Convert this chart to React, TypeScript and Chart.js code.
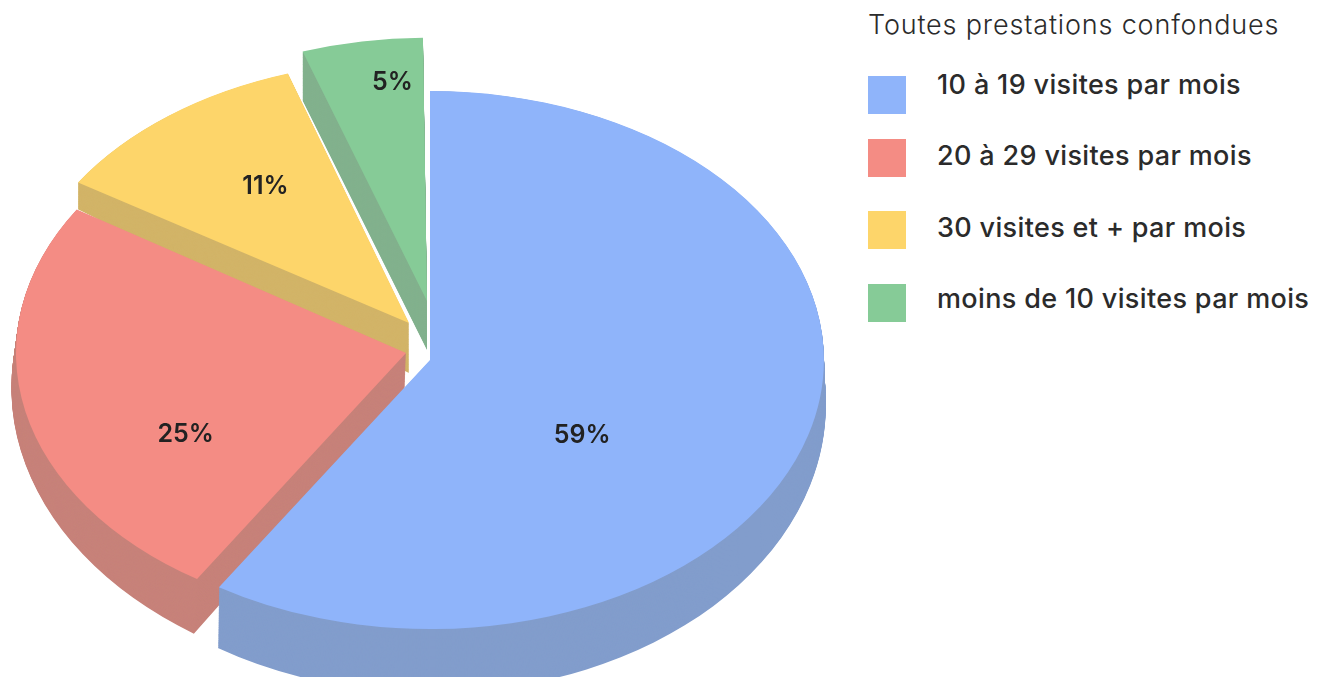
import React, { useEffect, useRef } from "react";
import { Chart, registerables } from "chart.js";

Chart.register(...registerables);

const legendTitle = "Toutes prestations confondues";
const categories = ["10 à 19 visites par mois", "20 à 29 visites par mois", "30 visites et + par mois", "moins de 10 visites par mois"];
const shares = [59, 25, 11, 5];
const topColors = ["#8FB4FA", "#F48C84", "#FDD56A", "#86CB97"];
const wallColors = ["#829DCC", "#C7827A", "#D2B468", "#82B18D"];

// presentation of the exploded 3D pie
const explodeX = [0, -24, -21, -3];
const explodeY = [15, 8, -22, -44];
const sliceScale = [1.01, 1, 1.005, 1];
const sliceTilt = [1, 1.005, 0.98, 0.988];
const sliceTurnDeg = [0, 0, 0, -0.6];
const wallDepth = [45, 43, 50, 49];
const wallSlopeY = [0.07, 0.07, 0.07, 0];
const wallSlopeX = [0, 0.02, 0.04, 0];
const wallWiden = [0.005, 0.008, 0, 0];
const wallShift = [0, -1.5, 0, 0];
const haloWidth = [0, 0, 2, 0];
const labelNudgeX = [-35, -30, -24, -4];
const labelNudgeY = [38, 52, -31, -87];
const paintOrder = [3, 2, 1, 0];
const legendBoxTops = [76, 139, 211, 284];
const legendTextMiddles = [84, 155, 227, 298];

const PIE_X = 430;
const PIE_Y = 345;
const TILT = 0.683;
const WALL_STEPS = 70;

const pie3d = {
  id: "pie3d",
  beforeDatasetDraw(chart: any, args: any) {
    const ctx = chart.ctx;
    const arcs = args.meta.data;
    const place = (i: number, t: number) => {
      const arc = arcs[i];
      const ax = PIE_X + explodeX[i];
      const ay = PIE_Y + explodeY[i];
      const s = sliceScale[i];
      ctx.translate(ax + t * wallShift[i], ay + t * wallDepth[i]);
      ctx.transform(1, t * wallSlopeX[i], 0, 1, 0, 0);
      ctx.scale(s * (1 + wallWiden[i] * t), s * TILT * sliceTilt[i] * (1 + wallSlopeY[i] * t));
      ctx.rotate((sliceTurnDeg[i] * Math.PI) / 180);
      ctx.translate(-arc.x, -arc.y);
    };
    paintOrder.forEach((i) => {
      const arc = arcs[i];
      const base = arc.options;
      if (haloWidth[i] > 0) {
        ctx.save();
        place(i, 0);
        arc.options = { ...base, backgroundColor: "#fff", borderColor: "rgba(255,255,255,0.9)", borderWidth: haloWidth[i], borderAlign: "center", borderJoinStyle: "miter" };
        arc.draw(ctx);
        ctx.restore();
      }
      arc.options = { ...base, backgroundColor: wallColors[i], borderWidth: 0 };
      for (let n = WALL_STEPS; n > 0; n--) {
        ctx.save();
        place(i, n / WALL_STEPS);
        arc.draw(ctx);
        ctx.restore();
      }
      arc.options = { ...base, backgroundColor: topColors[i], borderWidth: 0 };
      ctx.save();
      place(i, 0);
      arc.draw(ctx);
      ctx.restore();
      arc.options = base;
    });
    return false;
  },
  afterDatasetsDraw(chart: any) {
    const ctx = chart.ctx;
    const arcs = chart.getDatasetMeta(0).data;
    const total = shares.reduce((a, b) => a + b, 0);
    ctx.save();
    ctx.font = '600 25px Inter, sans-serif';
    ctx.fillStyle = "#222222";
    ctx.textAlign = "center";
    ctx.textBaseline = "middle";
    arcs.forEach((arc: any, i: number) => {
      const c = arc.getCenterPoint();
      const x = PIE_X + explodeX[i] + (c.x - arc.x) + labelNudgeX[i];
      const y = PIE_Y + explodeY[i] + (c.y - arc.y) * TILT + labelNudgeY[i];
      ctx.fillText(`${Math.round((shares[i] / total) * 100)}%`, x, y);
    });
    ctx.restore();
  },
};

export default function App() {
  const ref = useRef<HTMLCanvasElement>(null);
  useEffect(() => {
    const chart = new Chart(ref.current as HTMLCanvasElement, {
      type: "pie",
      data: {
        labels: categories,
        datasets: [{ data: shares, backgroundColor: topColors, borderWidth: 0 }],
      },
      options: {
        responsive: false,
        animation: false,
        events: [],
        radius: 390,
        rotation: 0,
        plugins: { legend: { display: false }, tooltip: { enabled: false }, title: { display: false } },
      } as any,
      plugins: [pie3d as any],
    });
    return () => chart.destroy();
  }, []);

  const font = "Inter, sans-serif";
  return (
    <div style={{ position: "relative", width: 1322, height: 677, overflow: "hidden", background: "#fff" }}>
      <style>{"html,body{margin:0;padding:0;background:#fff}"}</style>
      <canvas ref={ref} width={860} height={677} style={{ position: "absolute", left: 0, top: 0 }} />
      <div style={{ position: "absolute", left: 868, top: 24, transform: "translateY(-50%)", fontFamily: font, fontSize: 27, letterSpacing: 0.83, fontWeight: 300, color: "#2b2b2b", whiteSpace: "nowrap" }}>
        {legendTitle}
      </div>
      {categories.map((c, i) => (
        <React.Fragment key={c}>
          <div style={{ position: "absolute", left: 868, top: legendBoxTops[i], width: 38, height: 38, background: topColors[i] }} />
          <div style={{ position: "absolute", left: 937, top: legendTextMiddles[i], transform: "translateY(-50%)", fontFamily: font, fontSize: 27, letterSpacing: 0.35, fontWeight: 500, color: "#2b2b2b", whiteSpace: "nowrap" }}>
            {c}
          </div>
        </React.Fragment>
      ))}
    </div>
  );
}
